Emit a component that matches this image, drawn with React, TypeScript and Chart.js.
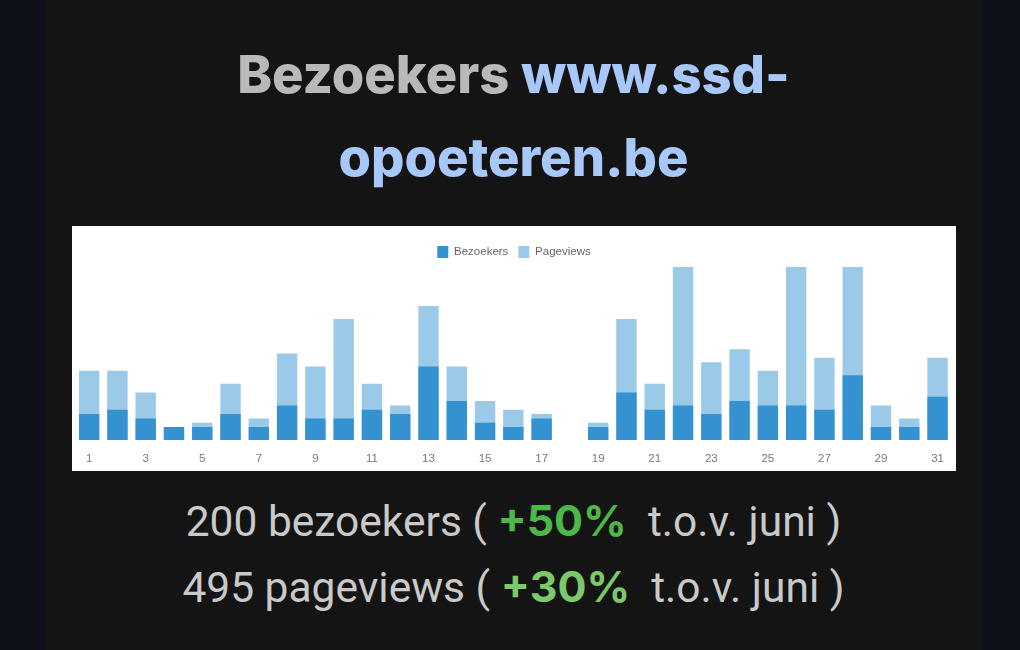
import React, { useEffect, useRef } from "react";
import { Chart, registerables } from "chart.js";

Chart.register(...registerables);

const days = ["1","2","3","4","5","6","7","8","9","10","11","12","13","14","15","16","17","18","19","20","21","22","23","24","25","26","27","28","29","30","31"];
const bezoekers = [6,7,5,3,3,6,3,8,5,5,7,6,17,9,4,3,5,0,3,11,7,8,6,9,8,8,7,15,3,3,10];
const pageviews = [16,16,11,3,4,13,5,20,17,28,13,8,31,17,9,7,6,0,4,28,13,40,18,21,16,40,19,40,8,5,19];
const seriesNames = ["Bezoekers", "Pageviews"];

const titleLead = "Bezoekers";
const titleLink1 = "www.ssd-";
const titleLink2 = "opoeteren.be";
const stat1 = { count: "200 bezoekers", change: "+50%", ref: "t.o.v. juni" };
const stat2 = { count: "495 pageviews", change: "+30%", ref: "t.o.v. juni" };

function BarChart() {
  const ref = useRef<HTMLCanvasElement | null>(null);
  useEffect(() => {
    if (!ref.current) return;
    const chart = new Chart(ref.current, {
      type: "bar",
      data: {
        labels: days,
        datasets: [
          { label: seriesNames[0], data: bezoekers, backgroundColor: "#3592d0", borderWidth: 0 },
          { label: seriesNames[1], data: pageviews, backgroundColor: "#9bc9e8", borderWidth: 0 },
        ],
      },
      options: {
        animation: false,
        responsive: true,
        maintainAspectRatio: false,
        layout: { padding: { top: 10, left: 3, right: 3, bottom: 0 } },
        plugins: {
          tooltip: { enabled: false },
          legend: {
            position: "top",
            maxHeight: 31,
            labels: {
              boxWidth: 11,
              boxHeight: 12,
              padding: 10,
              color: "#666",
              font: { family: "'Liberation Sans', Arial, sans-serif", size: 11.5 },
            },
          },
        },
        scales: {
          x: {
            stacked: true,
            grid: { display: false, drawTicks: false },
            border: { display: false },
            afterFit: (scale: any) => {
              scale.height = 31;
            },
            ticks: {
              autoSkip: false,
              maxRotation: 0,
              padding: 12,
              color: "#777",
              font: { family: "'Liberation Sans', Arial, sans-serif", size: 11.5 },
              callback: (_v: any, i: number) => (i % 2 === 0 ? days[i] : ""),
            },
          },
          y: {
            stacked: false,
            display: false,
            min: 0,
            max: 40,
          },
        },
      },
    });
    return () => chart.destroy();
  }, []);
  return <canvas ref={ref} />;
}

export default function App() {
  const statStyle: React.CSSProperties = {
    position: "absolute",
    left: 45,
    width: 937,
    textAlign: "center",
    fontFamily: "Roboto, sans-serif",
    fontSize: 42.5,
    lineHeight: "50px",
    color: "#c9c9c9",
    whiteSpace: "pre",
  };
  const boldStyle = (c: string): React.CSSProperties => ({
    fontFamily: "Inter, sans-serif",
    fontWeight: 700,
    fontSize: 43,
    color: c,
  });
  const titleStyle: React.CSSProperties = {
    position: "absolute",
    left: 45,
    width: 937,
    textAlign: "center",
    fontFamily: "Inter, sans-serif",
    fontWeight: 800,
    fontSize: 52.5,
    lineHeight: "60px",
    whiteSpace: "pre",
  };
  return (
    <div style={{ position: "fixed", inset: 0, width: 1020, height: 650, background: "#141414", overflow: "hidden" }}>
      <div style={{ position: "absolute", left: 0, top: 0, width: 45, height: 650, background: "#0e111a" }} />
      <div style={{ position: "absolute", left: 982, top: 0, width: 38, height: 650, background: "#0e111a" }} />
      <div style={{ ...titleStyle, top: 44 }}>
        <span style={{ color: "#b9b9b9" }}>{titleLead} </span>
        <span style={{ color: "#a8c8fa" }}>{titleLink1}</span>
      </div>
      <div style={{ ...titleStyle, top: 127, color: "#a8c8fa" }}>{titleLink2}</div>
      <div style={{ position: "absolute", left: 72, top: 226, width: 884, height: 245, background: "#fff" }}>
        <BarChart />
      </div>
      <div style={{ ...statStyle, top: 495 }}>
        {stat1.count + " ( "}
        <span style={boldStyle("#4cb848")}>{stat1.change}</span>
        {"  " + stat1.ref + " )"}
      </div>
      <div style={{ ...statStyle, top: 561 }}>
        {stat2.count + " ( "}
        <span style={boldStyle("#7cc86a")}>{stat2.change}</span>
        {"  " + stat2.ref + " )"}
      </div>
    </div>
  );
}
